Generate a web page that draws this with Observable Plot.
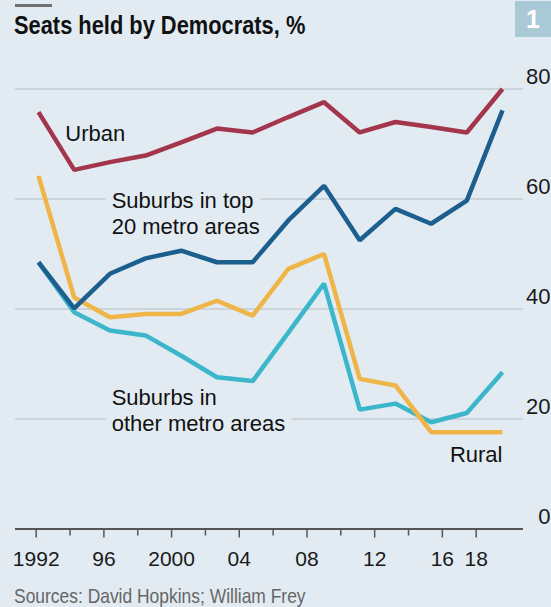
<!DOCTYPE html>
<html>
<head>
<meta charset="utf-8">
<script src="https://cdn.jsdelivr.net/npm/d3@7"></script>
<script src="https://cdn.jsdelivr.net/npm/@observablehq/plot@0.6"></script>
<style>
  html, body { margin: 0; padding: 0; background: #e2ebf2; }
  #wrap { position: relative; width: 551px; height: 607px; overflow: hidden; background: #e2ebf2; font-family: "Liberation Sans", Arial, sans-serif; }
  #bar { position: absolute; left: 15px; top: 4px; width: 37px; height: 3px; background: #6f6f6f; }
  #title { position: absolute; left: 14px; top: 12px; font-weight: bold; font-size: 26px; line-height: 26px; color: #111; white-space: nowrap; transform: scaleX(0.84); transform-origin: 0 0; }
  #num { position: absolute; left: 515px; top: 1px; width: 36px; height: 36px; background: #a9c9d7; color: #fff; font-weight: bold; font-size: 25px; line-height: 36px; text-align: center; }
  #src { position: absolute; left: 14px; top: 585px; font-size: 21px; line-height: 21px; color: #666; white-space: nowrap; transform: scaleX(0.83); transform-origin: 0 0; }
  .layer { position: absolute; left: 0; top: 50px; }
</style>
</head>
<body>
<div id="wrap">
  <div id="bar"></div>
  <div id="title">Seats held by Democrats, %</div>
  <div id="num">1</div>
  <div class="layer" id="axes"></div>
  <div class="layer" id="data"></div>
  <div id="src">Sources: David Hopkins; William Frey</div>
</div>
<script>
// ---- data ----
const years = [1992, 1994, 1996, 1998, 2000, 2002, 2004, 2006, 2008, 2010, 2012, 2014, 2016, 2018];
const urban = [75.8, 65.3, 66.7, 67.9, 70.3, 72.8, 72.1, 74.9, 77.6, 72.1, 74.0, 73.1, 72.1, 80.0];
const suburbsTop20 = [48.5, 40.1, 46.4, 49.2, 50.6, 48.5, 48.5, 56.1, 62.4, 52.5, 58.2, 55.5, 59.7, 76.1];
const rural = [64.2, 42.1, 38.5, 39.1, 39.1, 41.5, 38.8, 47.3, 50.0, 27.3, 26.1, 17.6, 17.6, 17.6];
const suburbsOther = [48.5, 39.4, 36.1, 35.2, 31.5, 27.6, 26.9, 35.7, 44.6, 21.7, 22.8, 19.4, 21.1, 28.5];

const yTicks = [0, 20, 40, 60, 80];
const xTickYears = [1992, 1996, 2000, 2004, 2008, 2012, 2016, 2018];
const xTickLabels = ["1992", "96", "2000", "04", "08", "12", "16", "18"];
const xMinorYears = [1994, 1998, 2002, 2006, 2010, 2014];

const seriesNames = ["Suburbs in other metro areas", "Rural", "Suburbs in top 20 metro areas", "Urban"];
const seriesValues = [suburbsOther, rural, suburbsTop20, urban];
const seriesColors = ["#3bb6cb", "#efb547", "#1c5f8e", "#a3364d"];

const labelTexts = ["Urban", "Suburbs in top\n20 metro areas", "Suburbs in\nother metro areas", "Rural"];
const labelYears = [1993.5, 1996.1, 1996.1, 2018];
const labelValues = [70.6, 53.7, 17.9, 12.1];
const labelAnchors = ["start", "start", "start", "end"];

// ---- build ----
const bg = "#e2ebf2";
const W = 551, H = 525;
const font = "'Liberation Sans', Arial, sans-serif";

const rows = [];
seriesNames.forEach((name, i) => {
  years.forEach((yr, j) => rows.push({series: name, year: yr, value: seriesValues[i][j]}));
});
const labels = labelTexts.map((t, i) => ({text: t, year: labelYears[i], value: labelValues[i], anchor: labelAnchors[i]}));

const axes = Plot.plot({
  width: W, height: H,
  marginTop: 38.5, marginBottom: 46.5, marginLeft: 15, marginRight: 28,
  style: {background: "transparent", fontFamily: font, overflow: "visible"},
  x: {domain: [1992, 2018], range: [35.7, 475.7]},
  y: {domain: [0, 80], range: [478.5, 38.5], axis: null},
  marks: [
    Plot.ruleY(yTicks.filter(d => d > 0), {y: d => d, stroke: "#c3ccd3", strokeWidth: 1.6}),
    Plot.axisX(xMinorYears, {tickSize: 7, tickFormat: () => "", stroke: "#555", strokeWidth: 1.5}),
    Plot.axisX(xTickYears, {tickSize: 9, tickPadding: 12.6, tickFormat: d => xTickLabels[xTickYears.indexOf(d)], stroke: "#555", strokeWidth: 1.5, fill: "#1a1a1a", fontSize: 21}),
    Plot.ruleY([0], {stroke: "#555", strokeWidth: 1.8}),
    Plot.text(yTicks, {y: d => d, text: d => String(d), frameAnchor: "right", textAnchor: "end", lineAnchor: "bottom", dx: 27, dy: -5, fontSize: 22, fill: "#1a1a1a"})
  ]
});
document.getElementById("axes").appendChild(axes);

const labelOpts = {x: "year", y: "value", text: "text", lineAnchor: "bottom", lineHeight: 26 / 22, fontSize: 22, fill: "#111", stroke: bg, strokeWidth: 16, strokeLinejoin: "round"};
const data = Plot.plot({
  width: W, height: H,
  marginTop: 38.5, marginBottom: 46.5, marginLeft: 15, marginRight: 28,
  style: {background: "transparent", fontFamily: font, overflow: "visible"},
  x: {domain: [1992, 2018], range: [38, 502], axis: null},
  y: {domain: [0, 80], range: [478.5, 38.5], axis: null},
  color: {domain: seriesNames, range: seriesColors},
  marks: [
    Plot.text(labels.filter(d => d.anchor === "start"), {...labelOpts, textAnchor: "start"}),
    Plot.text(labels.filter(d => d.anchor === "end"), {...labelOpts, textAnchor: "end"}),
    Plot.line(rows, {x: "year", y: "value", z: "series", stroke: "series", strokeWidth: 4.5, strokeLinejoin: "miter", strokeLinecap: "butt"})
  ]
});
document.getElementById("data").appendChild(data);
</script>
</body>
</html>
